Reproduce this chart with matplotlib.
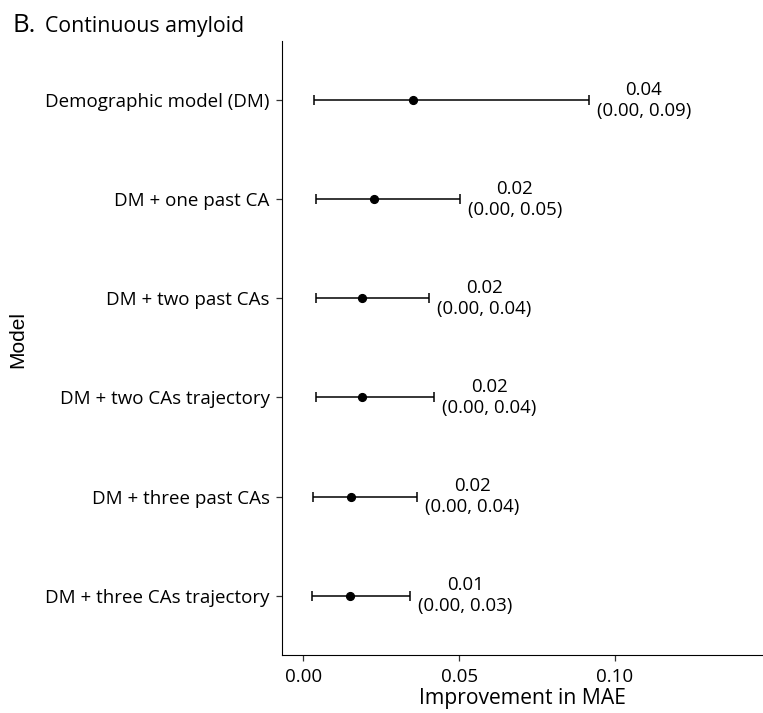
import numpy as np
import matplotlib.pyplot as plt

# data
models = ['Demographic model (DM)', 'DM + one past CA', 'DM + two past CAs',
          'DM + two CAs trajectory', 'DM + three past CAs', 'DM + three CAs trajectory']
est = np.array([0.0351, 0.0228, 0.0189, 0.0188, 0.0153, 0.0148])
lo = np.array([0.0033, 0.0040, 0.0040, 0.0040, 0.0029, 0.0028])
hi = np.array([0.0917, 0.0503, 0.0404, 0.0420, 0.0366, 0.0343])
lab_est = ['0.04', '0.02', '0.02', '0.02', '0.02', '0.01']
lab_ci = ['(0.00, 0.09)', '(0.00, 0.05)', '(0.00, 0.04)', '(0.00, 0.04)', '(0.00, 0.04)', '(0.00, 0.03)']

plt.rcParams['font.family'] = ['Open Sans', 'DejaVu Sans']

fig = plt.figure(figsize=(7.63, 7.13), dpi=100)
ax = fig.add_axes([0.3696, 0.0813, 0.6304, 0.8615])

y = np.arange(len(models), 0, -1)
ax.errorbar(est, y, xerr=[est - lo, hi - est], fmt='o', color='black',
            ms=5.6, capsize=3.6, elinewidth=1.1, capthick=1.1)

for i in range(len(models)):
    ax.text(hi[i] + 0.0176, y[i], lab_est[i] + '\n' + lab_ci[i],
            ha='center', va='center', fontsize=13.4, linespacing=1.2)

ax.set_xlim(-0.0069, 0.1476)
ax.set_ylim(0.4, 6.6)
ax.set_yticks(y)
ax.set_yticklabels(models, fontsize=13.5)
ax.set_xticks([0.0, 0.05, 0.10])
ax.set_xticklabels(['0.00', '0.05', '0.10'], fontsize=13.5)
ax.tick_params(length=4, width=0.9, color='#333333', labelcolor='black', pad=5)
ax.spines['top'].set_visible(False)
ax.spines['right'].set_visible(False)
ax.set_xlabel('Improvement in MAE', fontsize=15.2, labelpad=2)

fig.text(18 / 763, 1 - 339 / 713, 'Model', rotation=90, ha='center', va='center',
         fontsize=15, family='Liberation Sans')

fig.text(0.017, 0.955, 'B.', fontsize=18.5, va='baseline')
fig.text(0.059, 0.955, 'Continuous amyloid', fontsize=15.3, va='baseline')

fig.savefig('out.png', dpi=100)
